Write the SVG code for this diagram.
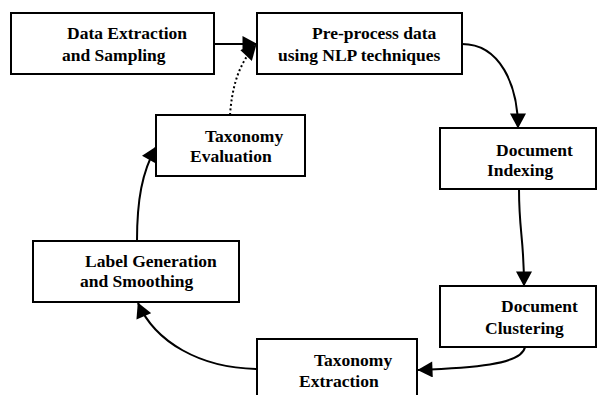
<svg xmlns="http://www.w3.org/2000/svg" width="597" height="395" viewBox="0 0 597 395">
<style>
.box{fill:#fff;stroke:#000;stroke-width:2}
.t{font-family:"Liberation Serif","Times New Roman",serif;font-weight:bold;font-size:17.5px;fill:#000}
.c{fill:none;stroke:#000;stroke-width:2}
.d{fill:none;stroke:#000;stroke-width:2;stroke-dasharray:2,2.5}
</style>
<defs>
<marker id="ah" markerUnits="userSpaceOnUse" markerWidth="16" markerHeight="16" viewBox="0 0 15 16" refX="14.5" refY="8" orient="auto">
<path d="M0,0 L15,8 L0,16 z" fill="#000"/>
</marker>
</defs>
<g id="connectors">
<path class="c" d="M214,44 L257,44" marker-end="url(#ah)"/>
<path class="d" d="M230,115 C232,88 238,64 256,45" marker-end="url(#ah)"/>
<path class="c" d="M462,44 C500,44 518,85 518,128" marker-end="url(#ah)"/>
<path class="c" d="M519,189 C519,232 524,238 524,286" marker-end="url(#ah)"/>
<path class="c" d="M525,347 C522,365 470,368 418,370" marker-end="url(#ah)"/>
<path class="c" d="M257,369 C200,368 155,342 138,303" marker-end="url(#ah)"/>
<path class="c" d="M137,241 C137,200 142,172 156,147" marker-end="url(#ah)"/>
</g>
<g id="data-extraction">
<rect class="box" x="11" y="13" width="203" height="61"/>
<text class="t" x="67" y="39">Data Extraction</text>
<text class="t" x="62" y="61">and Sampling</text>
</g>
<g id="preprocess">
<rect class="box" x="257" y="13" width="205" height="61"/>
<text class="t" x="312" y="39">Pre-process data</text>
<text class="t" x="278" y="61">using NLP techniques</text>
</g>
<g id="taxonomy-evaluation">
<rect class="box" x="156" y="115" width="149" height="61"/>
<text class="t" x="205" y="141.6">Taxonomy</text>
<text class="t" x="190" y="162.3">Evaluation</text>
</g>
<g id="document-indexing">
<rect class="box" x="440" y="128" width="156" height="61"/>
<text class="t" x="496" y="155.5">Document</text>
<text class="t" x="487" y="176.3">Indexing</text>
</g>
<g id="document-clustering">
<rect class="box" x="440" y="286" width="156" height="61"/>
<text class="t" x="501" y="312.3">Document</text>
<text class="t" x="485" y="334">Clustering</text>
</g>
<g id="taxonomy-extraction">
<rect class="box" x="257" y="339" width="160" height="70"/>
<text class="t" x="314" y="365.6">Taxonomy</text>
<text class="t" x="299" y="386.6">Extraction</text>
</g>
<g id="label-generation">
<rect class="box" x="33" y="241" width="206" height="61"/>
<text class="t" x="85" y="266.6">Label Generation</text>
<text class="t" x="80" y="287.3">and Smoothing</text>
</g>
</svg>
